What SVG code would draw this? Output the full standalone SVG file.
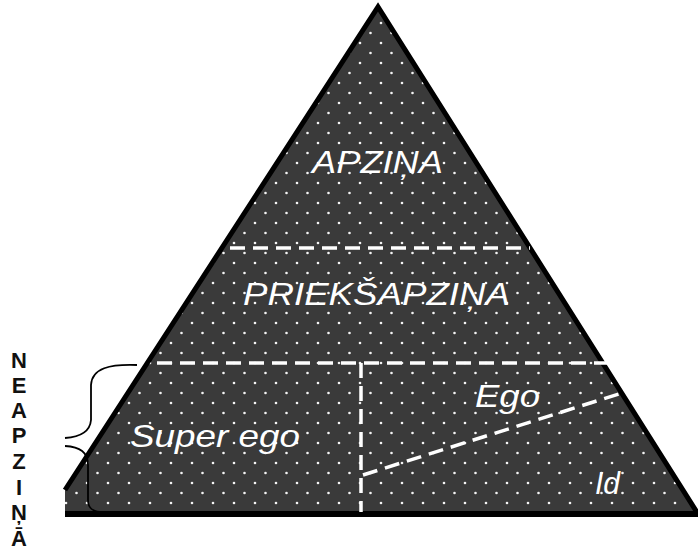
<svg xmlns="http://www.w3.org/2000/svg" width="698" height="550" viewBox="0 0 698 550">
<defs>
<pattern id="dots" x="0" y="0" width="21" height="20" patternUnits="userSpaceOnUse">
<rect width="21" height="20" fill="#3a3a3a"/>
<circle cx="3" cy="3" r="1.3" fill="#f4f4f4"/>
<circle cx="13.5" cy="13" r="1.3" fill="#f4f4f4"/>
</pattern>
<style>
.lbl{font-family:"Liberation Sans",Arial,sans-serif;font-style:italic;fill:#ffffff;font-size:32px}
.side{font-family:"Liberation Sans",Arial,sans-serif;font-weight:bold;fill:#111111;font-size:22px;text-anchor:middle}
.dash{stroke:#ffffff;stroke-width:3.5;stroke-dasharray:15 8;fill:none}
</style>
</defs>
<rect width="698" height="550" fill="#ffffff"/>
<g id="pyramid">
<polygon points="378,7 698,514 65,514 65,490" fill="url(#dots)"/>
<polyline points="65,490 378,7 698,514" fill="none" stroke="#000000" stroke-width="5" stroke-linejoin="miter"/>
<line x1="65" y1="514" x2="698" y2="514" stroke="#000000" stroke-width="6"/>
</g>
<g id="connectors">
<line class="dash" x1="230" y1="248" x2="530" y2="248"/>
<line class="dash" x1="157" y1="363" x2="608" y2="363"/>
<line class="dash" x1="361" y1="363" x2="361" y2="512"/>
<line class="dash" x1="363" y1="475" x2="625" y2="392"/>
<path d="M137,365 C110,364 92,368 91,385 L91,420 C90,432 80,437 65,438 M65,446 C80,447 88,452 88,465 L88,500 C88,508 92,511 100,512" fill="none" stroke="#000000" stroke-width="1.8"/>
</g>
<g id="apzina"><text class="lbl" x="312" y="173" textLength="131" lengthAdjust="spacingAndGlyphs">APZIŅA</text></g>
<g id="priekshapzina"><text class="lbl" x="243" y="305" textLength="267" lengthAdjust="spacingAndGlyphs">PRIEKŠAPZIŅA</text></g>
<g id="superego"><text class="lbl" x="130" y="447" font-size="33" textLength="170" lengthAdjust="spacingAndGlyphs">Super ego</text></g>
<g id="ego"><text class="lbl" x="475" y="407" font-size="34" textLength="65" lengthAdjust="spacingAndGlyphs">Ego</text></g>
<g id="id"><text class="lbl" x="595" y="494" font-size="31" textLength="25" lengthAdjust="spacingAndGlyphs">Id</text></g>
<g id="neapzina">
<text class="side" x="19" y="368">N</text>
<text class="side" x="19" y="393">E</text>
<text class="side" x="19" y="418">A</text>
<text class="side" x="19" y="443">P</text>
<text class="side" x="19" y="469">Z</text>
<text class="side" x="19" y="495">I</text>
<text class="side" x="19" y="520">Ņ</text>
<text class="side" x="19" y="546">Ā</text>
</g>
</svg>
